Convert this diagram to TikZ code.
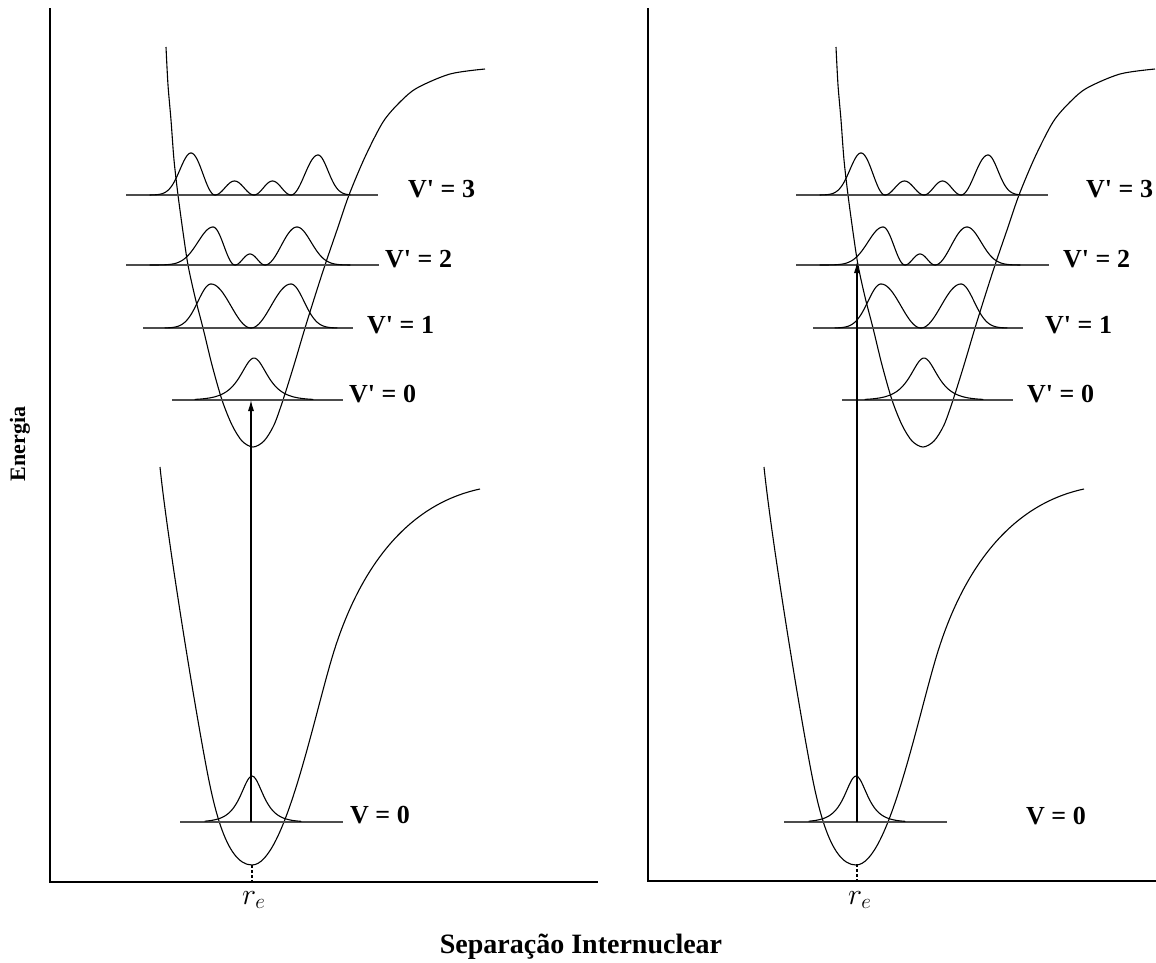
\RequirePackage{fix-cm}
\documentclass[tikz,border=0pt]{standalone}
\usepackage{fontspec}
\setmainfont{Liberation Serif}
\usetikzlibrary{arrows.meta}
\tikzset{
  wave/.style={line width=1.1pt, line join=round, line cap=round},
  curve/.style={line width=1.1pt, line join=round},
  level/.style={line width=1.7pt, black!70},
  axis/.style={line width=1.3pt},
  lbl/.style={font=\fontsize{26}{30}\selectfont\bfseries, inner sep=0pt, anchor=base west},
  trans/.style={line width=1.1pt, -{Latex[length=11pt,width=6pt]}},
  eqdash/.style={line width=1.1pt, dash pattern=on 3pt off 2pt}
}
% Gaussian tail: from, to, peak, height, sigma, baseline
\newcommand\wtail[6]{\draw[wave] plot[domain=#1:#2,samples=40] (\x,{#6-#4*exp(-((\x-#3)^2)/(2*#5*#5))});}
% half lobe: peak, node, height, baseline
\newcommand\whalf[4]{\draw[wave] plot[domain=#1:#2,samples=30] (\x,{#4-#3*pow(cos(90*(\x-#1)/(#2-#1)),2)});}
% inner lobe: node a, node b, height, baseline
\newcommand\wlobe[4]{\draw[wave] plot[domain=#1:#2,samples=30] (\x,{#4-#3*pow(sin(180*(\x-#1)/(#2-#1)),2)});}
% sech peak: from, to, centre, height, width, baseline
\newcommand\wsech[6]{\draw[wave] plot[domain=#1:#2,samples=60] (\x,{#6-#4/cosh((\x-#3)/#5)});}

\newcommand\excitedset{%
  \draw[curve] plot[smooth] coordinates {(166,47) (168,85) (171,120) (174,160) (178,195) (183,232) (188,265) (195,297) (203,328) (212,365) (222,400) (232,425) (242,441) (253,447) (264,441) (274,425) (283,400) (294,365) (305,328) (315,296) (325,265) (337,230) (349,195) (365,157) (383,122) (400,102) (417,88) (450,74) (485,69)};
  \draw[level] (126,195) -- (378,195);
  \draw[level] (126,265) -- (379,265);
  \draw[level] (143,328) -- (353,328);
  \draw[level] (172,400) -- (343,400);
  % v'=3
  \wtail{150}{191}{191}{42}{11}{195}
  \whalf{191}{215}{42}{195}
  \wlobe{215}{254}{14}{195}
  \wlobe{254}{291}{14}{195}
  \whalf{318}{291}{40}{195}
  \wtail{318}{350}{318}{40}{10}{195}
  % v'=2
  \wtail{150}{213}{213}{38}{15}{265}
  \whalf{213}{235}{38}{265}
  \wlobe{235}{265}{11}{265}
  \whalf{297}{265}{38}{265}
  \wtail{297}{350}{297}{38}{14}{265}
  % v'=1
  \wtail{165}{211}{211}{44}{13}{328}
  \whalf{211}{251}{44}{328}
  \whalf{291}{251}{44}{328}
  \wtail{291}{337}{291}{44}{13}{328}
  % v'=0
  \wsech{195}{313}{254}{42}{12}{400}
}
\newcommand\groundset{%
  \draw[curve] (160,467) .. controls (167,535) and (192,690) .. (205,760)
     .. controls (212.4,800) and (225,865) .. (252,865)
     .. controls (285,865) and (315,710) .. (335,648)
     .. controls (360,570.5) and (405,505) .. (480,489);
  \draw[level] (180,822) -- (343,822);
  \wsech{205}{301}{252}{46}{10}{822}
}

\begin{document}
\begin{tikzpicture}[x=1pt,y=-1pt]
\useasboundingbox (0,0) rectangle (1156,962);

% axes
\draw[axis] (50,8) -- (50,882) -- (598,882);
\draw[axis] (648,8) -- (648,881) -- (1156,881);

% left panel
\groundset
\excitedset
% right panel
\begin{scope}[xshift=604pt]
  \groundset
\end{scope}
\begin{scope}[xshift=670pt]
  \excitedset
\end{scope}

% transitions
\coordinate (gL) at (251,822);
\coordinate (eL) at (251,400);
\draw[trans] (gL) -- (eL);
\coordinate (gR) at (857,822);
\coordinate (eR) at (857,262);
\draw[trans] (gR) -- (eR);

% r_e markers
\coordinate (mL) at (252,865);
\coordinate (aL) at (252,882);
\draw[eqdash] (mL) -- (aL);
\coordinate (mR) at (857,864);
\coordinate (aR) at (857,881);
\draw[eqdash] (mR) -- (aR);
\node[inner sep=0pt, anchor=base west, font=\fontsize{30}{34}\selectfont] (reL) at (242,904) {$r_e$};
\node[inner sep=0pt, anchor=base west, font=\fontsize{30}{34}\selectfont] (reR) at (848,904) {$r_e$};

% labels left
\node[lbl] (l3L) at (408,197) {V\textquotesingle\ = 3};
\node[lbl] (l2L) at (385,267) {V\textquotesingle\ = 2};
\node[lbl] (l1L) at (367,333) {V\textquotesingle\ = 1};
\node[lbl] (l0L) at (349,402) {V\textquotesingle\ = 0};
\node[lbl] (g0L) at (350,823) {V = 0};
% labels right
\node[lbl] (l3R) at (1086,197) {V\textquotesingle\ = 3};
\node[lbl] (l2R) at (1063,267) {V\textquotesingle\ = 2};
\node[lbl] (l1R) at (1045,333) {V\textquotesingle\ = 1};
\node[lbl] (l0R) at (1027,402) {V\textquotesingle\ = 0};
\node[lbl] (g0R) at (1026,824) {V = 0};

% axis titles
\node[inner sep=0pt, anchor=base, rotate=90, font=\fontsize{22}{25}\selectfont\bfseries] (en) at (25,444) {Energia};
\node[inner sep=0pt, anchor=base, font=\fontsize{28}{32}\selectfont\bfseries] (sep) at (581,953) {Separação Internuclear};
\end{tikzpicture}
\end{document}
